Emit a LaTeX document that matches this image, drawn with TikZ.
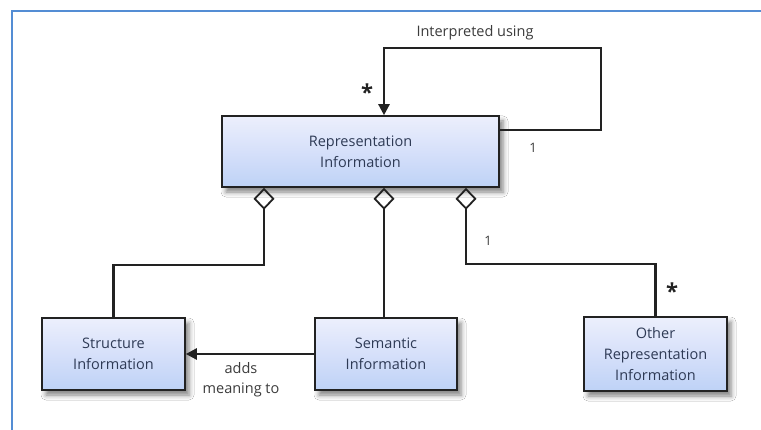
\documentclass[tikz,border=0pt]{standalone}
\usepackage{fontspec}
\setmainfont{Open Sans}
\usetikzlibrary{arrows.meta,shadows.blur}

\definecolor{framebl}{RGB}{84,141,212}
\definecolor{boxtop}{RGB}{236,239,252}
\definecolor{boxmid}{RGB}{214,224,250}
\definecolor{boxbot}{RGB}{190,210,246}
\definecolor{boxtxt}{RGB}{46,58,85}
\definecolor{linec}{RGB}{34,34,34}
\definecolor{lbltxt}{RGB}{60,60,60}

\tikzset{
  classbox/.style={draw=linec, line width=1.6pt, top color=boxtop, bottom color=boxbot,
    middle color=boxmid, text=boxtxt, align=center, inner sep=0pt,
    font=\fontsize{14.5}{21}\selectfont,
    blur shadow={shadow xshift=4pt, shadow yshift=-5pt, shadow blur radius=5pt, shadow opacity=50}},
  conn/.style={draw=linec, line width=2.4pt},
  agg/.style={conn, {Diamond[open, length=22pt, width=21pt, line width=1.8pt]}-},
  nav/.style={conn, -{Triangle[length=11pt, width=11pt]}},
  lbl/.style={text=lbltxt, font=\fontsize{14.5}{20}\selectfont, align=center, inner sep=0pt},
  mult/.style={text=linec, font=\fontsize{22}{22}\selectfont\bfseries, inner sep=0pt},
  one/.style={text=lbltxt, font=\fontsize{13}{13}\selectfont, inner sep=0pt}
}

\begin{document}
\begin{tikzpicture}[x=1pt, y=-1pt]
  \useasboundingbox[fill=white] (0,0) rectangle (761,430);

  % frame lines
  \draw[framebl, line width=2pt] (12,430) -- (12,11) -- (761,11);

  % classes
  \node[classbox, minimum width=277pt, minimum height=71pt] (rep) at (360.5,151.5)
    {Representation\\Information};
  \node[classbox, minimum width=143pt, minimum height=72pt] (struct) at (113.5,354)
    {Structure\\Information};
  \node[classbox, minimum width=142pt, minimum height=72pt] (sem) at (386,354)
    {Semantic\\Information};
  \node[classbox, minimum width=143pt, minimum height=74pt] (other) at (655.5,354)
    {Other\\Representation\\Information};

  % routing points
  \coordinate (loopr) at (601,130);
  \coordinate (loopt) at (384,48);
  \coordinate (aggl) at (264,265);
  \coordinate (aggm) at (384,265);
  \coordinate (aggr) at (466,264);

  % self association
  \draw[nav] (rep.east |- loopr) -- (loopr) |- (loopt) -- (rep.north -| loopt);

  % aggregations
  \draw[agg] (rep.south -| aggl) -- (aggl) -| (struct.north);
  \draw[agg] (rep.south -| aggm) -- (sem.north -| aggm);
  \draw[agg] (rep.south -| aggr) -- (aggr) -| (other.north);

  % directed association
  \draw[nav] (sem.west) -- (struct.east);

  % labels
  \node[lbl] (lint) at (475,33) {Interpreted using};
  \node[lbl] (ladd) at (241,380) {adds\\meaning to};
  \node[mult] (m1) at (367,92) {*};
  \node[one] (o1) at (533,148) {1};
  \node[one] (o2) at (488,241) {1};
  \node[mult] (m2) at (672,291) {*};
\end{tikzpicture}
\end{document}
